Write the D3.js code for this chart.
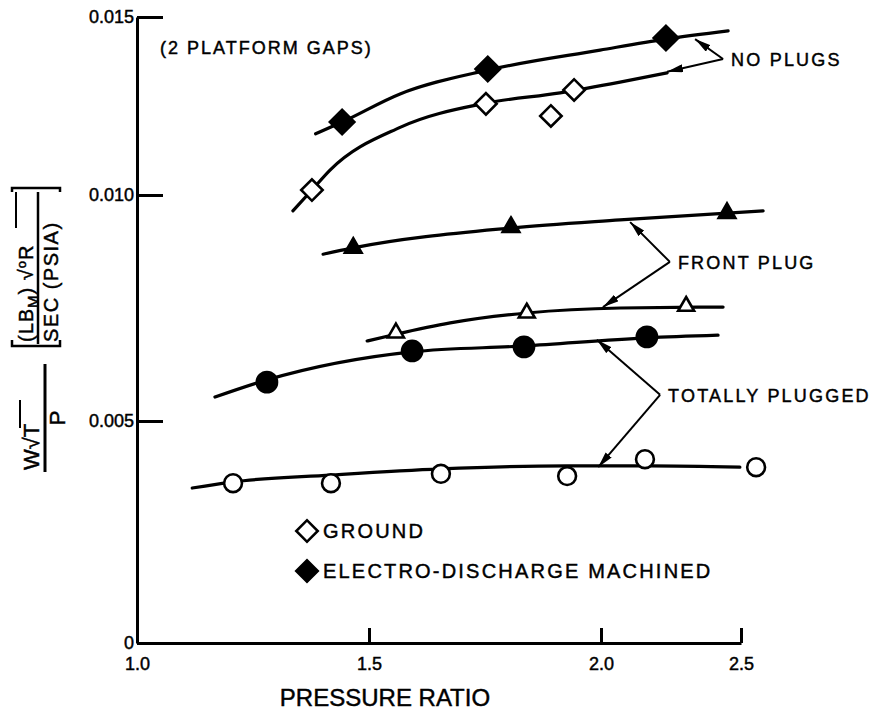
<!DOCTYPE html>
<html>
<head>
<meta charset="utf-8">
<script src="https://cdn.jsdelivr.net/npm/d3@7"></script>
<style>
  body { margin: 0; background: #fff; }
  text { font-family: "Liberation Sans", Arial, Helvetica, sans-serif; fill: #000; stroke: #000; stroke-width: 0.45px; }
  .narrow { font-family: "Liberation Sans Narrow", "Liberation Sans", Arial, sans-serif; }
</style>
</head>
<body>
<div id="box"></div>
<script>
// 画布
const width = 880
const height = 715

// 刻度
const xTicks = [1.0, 1.5, 2.0, 2.5]
const yTicks = [0, 0.005, 0.010, 0.015]

// 测量点 (pressure ratio, flow parameter)
const edmX = [1.442, 1.756, 2.232]                 // no plugs, electro-discharge machined
const edmY = [0.01205, 0.01354, 0.01441]
const groundX = [1.377, 1.752, 1.942, 1.892]       // no plugs, ground
const groundY = [0.01014, 0.01256, 0.01295, 0.01222]
const frontEdmX = [1.466, 1.806, 2.45]             // front plug
const frontEdmY = [0.00883, 0.00929, 0.00960]
const frontGrX = [1.558, 1.84, 2.304]
const frontGrY = [0.00695, 0.00739, 0.00754]
const totEdmX = [1.280, 1.593, 1.834, 2.164]       // totally plugged
const totEdmY = [0.00586, 0.00655, 0.00664, 0.00686]
const totGrX = [1.207, 1.418, 1.655, 1.927, 2.157, 2.554]
const totGrY = [0.00360, 0.00360, 0.00381, 0.00376, 0.00414, 0.00396]

// 拟合曲线 (faired by hand in the original)
const edmFitX = [1.385, 1.442, 1.567, 1.756, 1.998, 2.232, 2.454]
const edmFitY = [0.01172, 0.01205, 0.01284, 0.01351, 0.01407, 0.01438, 0.01461]
const groundFitX = [1.336, 1.377, 1.416, 1.567, 1.752, 1.912, 2.068, 2.236]
const groundFitY = [0.00965, 0.01014, 0.01070, 0.01190, 0.01258, 0.01287, 0.01317, 0.01343]
const frontEdmFitX = [1.401, 1.466, 1.806, 2.068, 2.579]
const frontEdmFitY = [0.00869, 0.00883, 0.00927, 0.00945, 0.00965]
const frontGrFitX = [1.496, 1.558, 1.675, 1.840, 2.068, 2.436]
const frontGrFitY = [0.00677, 0.00692, 0.00717, 0.00739, 0.00750, 0.00752]
const totEdmFitX = [1.168, 1.280, 1.593, 1.834, 2.164, 2.418]
const totEdmFitY = [0.00553, 0.00591, 0.00653, 0.00666, 0.00684, 0.00690]
const totGrFitX = [1.119, 1.207, 1.418, 1.655, 1.927, 2.175, 2.496]
const totGrFitY = [0.00349, 0.00363, 0.00378, 0.00392, 0.00399, 0.00399, 0.00396]

// 标注: 文字, 折点, 两个箭头终点
const noteText = ['NO PLUGS', 'FRONT PLUG', 'TOTALLY PLUGGED']
const noteVertexX = [2.436, 2.246, 2.211]
const noteVertexY = [0.01382, 0.00852, 0.00558]
const noteUpX = [2.336, 2.104, 1.991]
const noteUpY = [0.01438, 0.00940, 0.00680]
const noteLowX = [2.236, 2.007, 1.994]
const noteLowY = [0.01346, 0.00752, 0.00396]

const legendLabels = ['GROUND', 'ELECTRO-DISCHARGE MACHINED']

const zip = (xs, ys) => xs.map((v, i) => [v, ys[i]])

// 扫描图轴不完全线性，分段映射
const x = d3.scaleLinear().domain(xTicks).range([137, 369, 601, 741])
const y = d3.scaleLinear().domain(yTicks).range([643, 421, 195, 17])

const svg = d3.select('#box').append('svg')
  .attr('width', width)
  .attr('height', height)

svg.append('defs').append('marker')
  .attr('id', 'arrow')
  .attr('viewBox', '0 0 16 8')
  .attr('refX', 16).attr('refY', 4)
  .attr('markerWidth', 16).attr('markerHeight', 8)
  .attr('markerUnits', 'userSpaceOnUse')
  .attr('orient', 'auto')
  .append('path').attr('d', 'M0,0L16,4L0,8Z').attr('fill', '#000')

// 坐标轴
const yAxis = svg.append('g')
  .attr('transform', `translate(${x(1)},0)`)
  .call(d3.axisLeft(y).tickValues(yTicks).tickSizeInner(-26).tickSizeOuter(0).tickPadding(3)
    .tickFormat(d => d === 0 ? '0' : d3.format('.3f')(d)))
yAxis.select('.domain').attr('stroke-width', 3)
yAxis.selectAll('.tick line').attr('stroke-width', 3)
yAxis.selectAll('.tick text').style('font-size', '18px').attr('fill', '#000')

const xAxis = svg.append('g')
  .attr('transform', `translate(0,${y(0)})`)
  .call(d3.axisBottom(x).tickValues(xTicks).tickSizeInner(-15).tickSizeOuter(0).tickPadding(14)
    .tickFormat(d3.format('.1f')))
xAxis.select('.domain').attr('stroke-width', 3)
xAxis.selectAll('.tick line').attr('stroke-width', 3)
xAxis.selectAll('.tick text').attr('class', 'narrow').style('font-size', '18px').attr('fill', '#000')

svg.append('text').attr('class', 'narrow')
  .attr('x', 385).attr('y', 706)
  .attr('text-anchor', 'middle')
  .style('font-size', '24px')
  .text('PRESSURE RATIO')

// y 轴标题 (旋转)
const yl = svg.append('g').attr('transform', 'translate(45,418) rotate(-90)')
yl.append('line').attr('x1', -54).attr('x2', 54).attr('stroke', '#000').attr('stroke-width', 3)
const num = yl.append('text').attr('x', -52).attr('y', -6).style('font-size', '22px')
num.append('tspan').text('W')
num.append('tspan').text('\u221A')
num.append('tspan').text('T')
yl.append('line').attr('x1', -10).attr('x2', 18).attr('y1', -25).attr('y2', -25).attr('stroke', '#000').attr('stroke-width', 2)
yl.append('text').attr('x', 0).attr('y', 20).attr('text-anchor', 'middle').style('font-size', '22px').text('P')

const ul = svg.append('g').attr('transform', 'translate(38,268) rotate(-90)')
ul.append('line').attr('x1', -76).attr('x2', 76).attr('stroke', '#000').attr('stroke-width', 2.5)
const un = ul.append('text').attr('x', -74).attr('y', -5).style('font-size', '20px').style('letter-spacing', '1px')
un.append('tspan').text('(LB')
un.append('tspan').attr('dy', 5).style('font-size', '15px').text('M')
un.append('tspan').attr('dy', -5).text(') \u221A')
un.append('tspan').attr('dy', -7).style('font-size', '13px').text('o')
un.append('tspan').attr('dy', 7).text('R')
ul.append('line').attr('x1', 40).attr('x2', 76).attr('y1', -22).attr('y2', -22).attr('stroke', '#000').attr('stroke-width', 2)
ul.append('text').attr('x', -74).attr('y', 20).style('font-size', '20px').style('letter-spacing', '1.5px').text('SEC (PSIA)')
// 方括号
ul.append('path')
  .attr('d', 'M-72,-26H-78V22H-72M76,-26H80V22H76')
  .attr('fill', 'none').attr('stroke', '#000').attr('stroke-width', 2.5)

// 注释文字
svg.append('text').attr('x', 160).attr('y', 54).style('font-size', '18px').style('letter-spacing', '2px')
  .text('(2 PLATFORM GAPS)')

// 曲线
const line = d3.line().x(d => x(d[0])).y(d => y(d[1])).curve(d3.curveMonotoneX)
const fits = [
  zip(edmFitX, edmFitY), zip(groundFitX, groundFitY),
  zip(frontEdmFitX, frontEdmFitY), zip(frontGrFitX, frontGrFitY),
  zip(totEdmFitX, totEdmFitY), zip(totGrFitX, totGrFitY)
]
svg.append('g').selectAll('path').data(fits).join('path')
  .attr('d', line)
  .attr('fill', 'none').attr('stroke', '#000').attr('stroke-width', 3.2)
  .attr('stroke-linecap', 'round')

// 箭头
const notes = noteText.map((t, i) => ({
  t, vx: noteVertexX[i], vy: noteVertexY[i],
  ux: noteUpX[i], uy: noteUpY[i], lx: noteLowX[i], ly: noteLowY[i]
}))
const ng = svg.append('g')
notes.forEach(n => {
  ng.append('line').attr('x1', x(n.vx)).attr('y1', y(n.vy)).attr('x2', x(n.ux)).attr('y2', y(n.uy))
    .attr('stroke', '#000').attr('stroke-width', 2).attr('marker-end', 'url(#arrow)')
  ng.append('line').attr('x1', x(n.vx)).attr('y1', y(n.vy)).attr('x2', x(n.lx)).attr('y2', y(n.ly))
    .attr('stroke', '#000').attr('stroke-width', 2).attr('marker-end', 'url(#arrow)')
  ng.append('text').attr('x', x(n.vx) + 8).attr('y', y(n.vy) + 7)
    .style('font-size', '18px').style('letter-spacing', '2.2px').text(n.t)
})

// 符号
const sym = (type, size) => d3.symbol().type(type).size(size)()
const series = [
  {xs: edmX, ys: edmY, d: sym(d3.symbolSquare, 300), rot: 45, fill: '#000'},
  {xs: groundX, ys: groundY, d: sym(d3.symbolSquare, 230), rot: 45, fill: '#fff'},
  {xs: frontEdmX, ys: frontEdmY, d: sym(d3.symbolTriangle, 120), rot: 0, fill: '#000'},
  {xs: frontGrX, ys: frontGrY, d: sym(d3.symbolTriangle, 110), rot: 0, fill: '#fff'},
  {xs: totEdmX, ys: totEdmY, d: sym(d3.symbolCircle, 320), rot: 0, fill: '#000'},
  {xs: totGrX, ys: totGrY, d: sym(d3.symbolCircle, 250), rot: 0, fill: '#fff'}
]
series.forEach(s => {
  svg.append('g').selectAll('path').data(zip(s.xs, s.ys)).join('path')
    .attr('d', s.d)
    .attr('transform', d => `translate(${x(d[0])},${y(d[1])}) rotate(${s.rot})`)
    .attr('fill', s.fill).attr('stroke', '#000').attr('stroke-width', 2.6)
})

// 图例
const lg = svg.append('g').attr('transform', 'translate(307,531)')
lg.selectAll('path').data(legendLabels).join('path')
  .attr('d', sym(d3.symbolSquare, 230))
  .attr('transform', (d, i) => `translate(0,${i * 40}) rotate(45)`)
  .attr('fill', (d, i) => i ? '#000' : '#fff')
  .attr('stroke', '#000').attr('stroke-width', 2.6)
lg.selectAll('text').data(legendLabels).join('text')
  .attr('x', 16).attr('y', (d, i) => i * 40 + 7)
  .style('font-size', '20px').style('letter-spacing', '2.2px')
  .text(d => d)
</script>
</body>
</html>
